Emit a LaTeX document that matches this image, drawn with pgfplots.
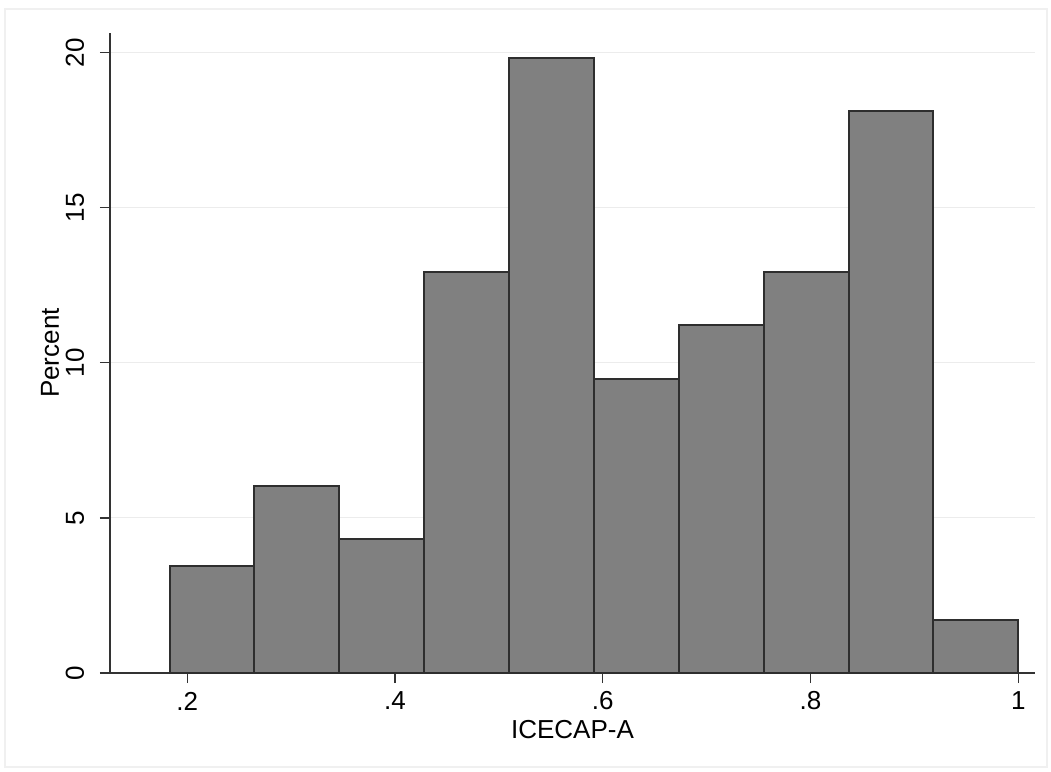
\documentclass[border=0pt]{standalone}
\usepackage{pgfplots}
\pgfplotsset{compat=1.18}
\usepackage{fontspec}
\setmainfont{Liberation Sans}
\definecolor{barfill}{HTML}{808080}
\definecolor{baredge}{HTML}{2E2E2E}
\definecolor{axline}{HTML}{333333}
\definecolor{gridc}{HTML}{ECECEC}
\begin{document}
\begin{tikzpicture}
\useasboundingbox (0,0) rectangle (525.5pt,386pt);
\draw[gray!12, line width=0.6pt] (2.5pt,2.5pt) rectangle (523.5pt,381.5pt);
\begin{axis}[
  at={(55pt,49.5pt)}, anchor=origin,
  scale only axis, width=462.5pt, height=320pt,
  xmin=0.1256, xmax=1.0161, ymin=0, ymax=20.63,
  axis x line*=bottom, axis y line*=left,
  axis line style={axline, line width=0.7pt, -},
  tick style={axline, line width=0.7pt},
  tick align=outside, major tick length=5pt,
  xtick={0.2,0.4,0.6,0.8,1}, xticklabels={.2,.4,.6,.8,1},
  ytick={0,5,10,15,20}, yticklabels={0,5,10,15,20},
  ymajorgrids, grid style={gridc, line width=0.6pt},
  /pgf/number format/assume math mode=true,
  ticklabel style={font=\fontsize{13}{15}\selectfont, text=black},
  xticklabel style={anchor=center, yshift=-9pt},
  yticklabel style={rotate=90, anchor=center, yshift=12.5pt},
  xlabel={ICECAP-A}, ylabel={Percent},
  label style={font=\fontsize{13}{15}\selectfont},
  xlabel style={at={(axis description cs:0.5,0)}, anchor=center, yshift=-28.5pt},
  ylabel style={at={(axis description cs:0,0.5)}, anchor=center, yshift=30pt},
  clip=false,
]
\addplot[ybar interval, fill=barfill, draw=baredge, line width=1pt] coordinates {
(0.1830,3.448) (0.2647,6.034) (0.3464,4.310) (0.4281,12.931) (0.5098,19.828)
(0.5915,9.483) (0.6732,11.207) (0.7549,12.931) (0.8366,18.103) (0.9183,1.724)
(1.0000,1.724)};
\end{axis}
\end{tikzpicture}
\end{document}
